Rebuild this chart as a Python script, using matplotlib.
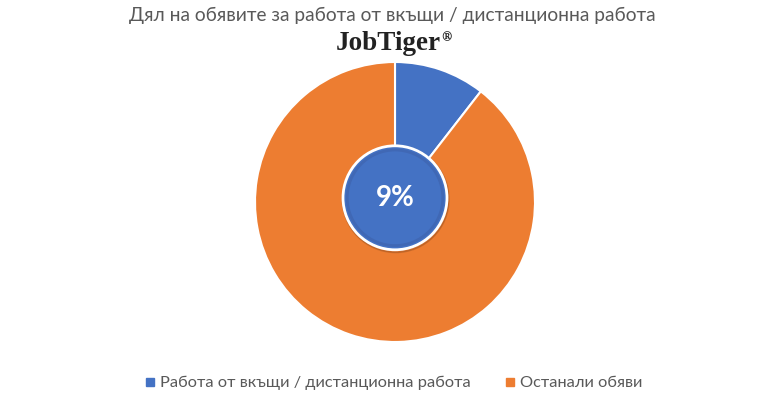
import matplotlib.pyplot as plt
from matplotlib.lines import Line2D
import matplotlib.patches as patches

TITLE = "Дял на обявите за работа от вкъщи / дистанционна работа"
LABELS = ["Работа от вкъщи / дистанционна работа", "Останали обяви"]
SHARES = [10.5, 89.5]
CENTER_LABEL = "9%"
COLORS = ["#4472C4", "#ED7D31"]

plt.rcParams['font.family'] = ['Lato', 'DejaVu Sans']

fig = plt.figure(figsize=(7.84, 4.0), dpi=100)

# pie: center ~ (395, 202) px, radius 140 px
ax = fig.add_axes([(395 - 140) / 784, (400 - 342) / 400, 280 / 784, 280 / 400])
wedges, _ = ax.pie(SHARES, colors=COLORS, startangle=90, counterclock=False,
                   wedgeprops=dict(edgecolor='white', linewidth=1.5))
ax.set_xlim(-1, 1)
ax.set_ylim(-1, 1)
ax.set_aspect('equal')
ax.axis('off')

# center badge
r = 52 / 140
ax.add_patch(patches.Circle((0.005, 0.02), r + 0.01, color='#000000', alpha=0.12, zorder=3))
ax.add_patch(patches.Circle((0, 0.03), r, facecolor=COLORS[0], edgecolor='white',
                            linewidth=2, zorder=4))
ax.add_patch(patches.Circle((0, 0.03), r - 0.03, facecolor='none', edgecolor='#4068b5',
                            linewidth=2, zorder=5))
ax.text(0, 0.03, CENTER_LABEL, color='white', fontsize=20, fontweight='bold',
        ha='center', va='center', zorder=6)

fig.text(0.5, 1 - 15 / 400, TITLE, ha='center', va='center', fontsize=13.8, color='#595959')
fig.text(388 / 784, 1 - 44 / 400, "JobTiger", ha='center', va='center', fontsize=19.5,
         fontweight='bold', family='Liberation Serif', color='#222222')
fig.text(446 / 784, 1 - 38 / 400, "®", ha='center', va='center', fontsize=9,
         fontweight='bold', family='DejaVu Serif', color='#222222')

handles = [Line2D([], [], marker='s', linestyle='none', markersize=6, color=c) for c in COLORS]
fig.legend(handles, LABELS, loc='center', bbox_to_anchor=(392 / 784, 1 - 383 / 400), ncol=2,
           frameon=False, fontsize=11.8, handlelength=1.0, handletextpad=0.1,
           columnspacing=1.9, labelcolor='#595959')

fig.savefig("out.png", dpi=100, facecolor='white')
